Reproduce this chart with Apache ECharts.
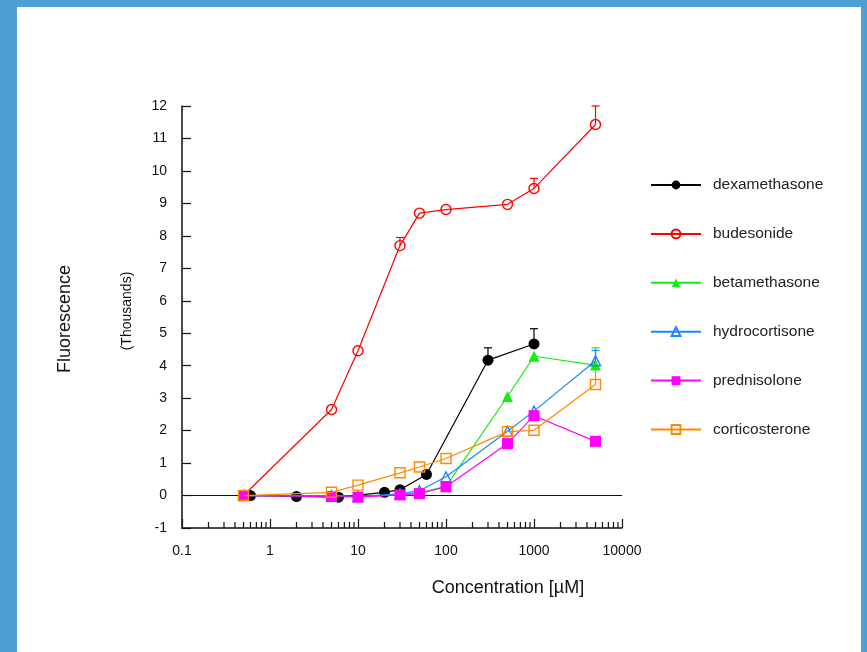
<!DOCTYPE html>
<html lang="en">
<head>
    <meta charset="UTF-8">
    <title>Fluorescence vs concentration</title>
    <script src="https://cdn.jsdelivr.net/npm/echarts@6/dist/echarts.min.js"></script>
    <style>
        html, body {
            margin: 0;
            padding: 0;
            background: #4f9fd6;
        }
        #frame {
            position: absolute;
            left: 17px;
            top: 7px;
            right: 6px;
            bottom: 0;
            background: #ffffff;
        }
        #chart {
            position: absolute;
            left: -17px;
            top: -7px;
            width: 867px;
            height: 652px;
        }
    </style>
</head>
<body>
    <div id="frame"><div id="chart"></div></div>
    <script>
        // concentrations (uM)
        const dexaX = [0.6, 2, 6, 20, 30, 60, 300, 1000];
        const concX = [0.5, 5, 10, 30, 50, 100, 500, 1000, 5000];

        // fluorescence (thousands)
        const dexaY = [0, -0.03, -0.05, 0.1, 0.18, 0.65, 4.17, 4.67];
        const budY = [0, 2.65, 4.46, 7.70, 8.70, 8.81, 8.97, 9.46, 11.43];
        const betaY = [0, 0, -0.03, 0.03, 0.08, 0.28, 3.05, 4.29, 4.02];
        const hydroY = [0, 0, -0.03, 0.05, 0.15, 0.58, 1.98, 2.6, 4.15];
        const predY = [0, -0.03, -0.05, 0.02, 0.06, 0.27, 1.6, 2.46, 1.67];
        const cortY = [0, 0.1, 0.32, 0.70, 0.88, 1.14, 1.97, 2.01, 3.42];

        // upper error bar ends, null = none
        const dexaErr = [null, null, null, null, null, null, 4.55, 5.14];
        const budErr = [null, null, null, 7.95, null, null, null, 9.77, 12.0];
        const betaErr = [null, null, null, null, null, null, null, null, 4.55];
        const hydroErr = [null, null, null, null, null, null, null, null, 4.47];
        const predErr = [null, null, null, null, null, null, null, null, null];
        const cortErr = [null, null, null, null, null, null, null, null, 4.0];

        const names = ['dexamethasone', 'budesonide', 'betamethasone', 'hydrocortisone', 'prednisolone', 'corticosterone'];
        const colors = ['#000000', '#ff0000', '#11ee11', '#1a86ff', '#ff00ff', '#ff8a00'];
        const xTickLabels = ['0.1', '1', '10', '100', '1000', '10000'];
        const minorTicks = [0.2, 0.3, 0.4, 0.5, 0.6, 0.7, 0.8, 0.9,
            2, 3, 4, 5, 6, 7, 8, 9,
            20, 30, 40, 50, 60, 70, 80, 90,
            200, 300, 400, 500, 600, 700, 800, 900,
            2000, 3000, 4000, 5000, 6000, 7000, 8000, 9000];

        const FONT = '"Liberation Sans", Arial, sans-serif';

        const chart = echarts.init(document.getElementById('chart'));

        function pairs(xs, ys) {
            return xs.map((x, i) => [x, ys[i]]);
        }

        function errPairs(xs, ys, tops) {
            const out = [];
            xs.forEach((x, i) => {
                if (tops[i] != null) out.push([x, ys[i], tops[i]]);
            });
            return out;
        }

        function lineSeries(i, xs, ys, symbol, filled) {
            return {
                name: names[i],
                type: 'line',
                data: pairs(xs, ys),
                symbol: symbol,
                symbolSize: filled ? 11 : 10,
                showSymbol: true,
                lineStyle: { color: colors[i], width: 1.2 },
                itemStyle: filled
                    ? { color: colors[i] }
                    : { color: 'rgba(255,255,255,0)', borderColor: colors[i], borderWidth: 1.4 },
                z: 3 + i,
                animation: false
            };
        }

        function errSeries(i, xs, ys, tops) {
            return {
                type: 'custom',
                data: errPairs(xs, ys, tops),
                z: 2,
                silent: true,
                animation: false,
                renderItem: function (params, api) {
                    const p0 = api.coord([api.value(0), api.value(1)]);
                    const p1 = api.coord([api.value(0), api.value(2)]);
                    const st = { stroke: colors[i], lineWidth: 1.2 };
                    return {
                        type: 'group',
                        children: [
                            { type: 'line', shape: { x1: p0[0], y1: p0[1], x2: p1[0], y2: p1[1] }, style: st },
                            { type: 'line', shape: { x1: p1[0] - 4, y1: p1[1], x2: p1[0] + 4, y2: p1[1] }, style: st }
                        ]
                    };
                }
            };
        }

        const option = {
            backgroundColor: 'transparent',
            textStyle: { fontFamily: FONT },
            grid: { left: 182, top: 106, width: 440, height: 422 },
            legend: {
                data: names,
                orient: 'vertical',
                left: 645,
                top: 172,
                itemWidth: 50,
                itemHeight: 11,
                itemGap: 32.9,
                textStyle: { fontSize: 15.5, color: '#222', fontFamily: FONT, padding: [0, 0, 0, 7] }
            },
            xAxis: {
                type: 'log',
                logBase: 10,
                min: 0.1,
                max: 10000,
                axisLine: { onZero: false, lineStyle: { color: '#111', width: 1.5 } },
                axisTick: { inside: true, length: 9, lineStyle: { color: '#111', width: 1.2 } },
                axisLabel: {
                    color: '#111',
                    fontSize: 14,
                    margin: 16,
                    formatter: function (v) {
                        const k = Math.round(Math.log10(v)) + 1;
                        return xTickLabels[k] || '';
                    }
                },
                splitLine: { show: false }
            },
            yAxis: {
                type: 'value',
                min: -1,
                max: 12,
                interval: 1,
                axisLine: { show: true, lineStyle: { color: '#111', width: 1.5 } },
                axisTick: { show: true, inside: true, length: 9, lineStyle: { color: '#111', width: 1.2 } },
                axisLabel: { color: '#111', fontSize: 14, margin: 15 },
                splitLine: { show: false }
            },
            graphic: [
                {
                    type: 'text',
                    x: 65, y: 319,
                    rotation: Math.PI / 2,
                    style: {
                        text: 'Fluorescence', fontSize: 18, fontFamily: FONT, fill: '#111',
                        textAlign: 'center', textVerticalAlign: 'middle'
                    }
                },
                {
                    type: 'text',
                    x: 127, y: 311,
                    rotation: Math.PI / 2,
                    style: {
                        text: '(Thousands)', fontSize: 14, fontFamily: FONT, fill: '#111',
                        textAlign: 'center', textVerticalAlign: 'middle'
                    }
                },
                {
                    type: 'text',
                    x: 508, y: 588,
                    style: {
                        text: 'Concentration [µM]', fontSize: 18, fontFamily: FONT, fill: '#111',
                        textAlign: 'center', textVerticalAlign: 'middle'
                    }
                }
            ],
            series: [
                // minor ticks of the log axis
                {
                    type: 'custom',
                    data: minorTicks.map(v => [v]),
                    silent: true,
                    animation: false,
                    z: 1,
                    renderItem: function (params, api) {
                        const p = api.coord([api.value(0), -1]);
                        return {
                            type: 'line',
                            shape: { x1: p[0], y1: p[1], x2: p[0], y2: p[1] - 6 },
                            style: { stroke: '#111', lineWidth: 1.2 }
                        };
                    }
                },
                Object.assign(lineSeries(0, dexaX, dexaY, 'circle', true), {
                    markLine: {
                        silent: true,
                        symbol: 'none',
                        label: { show: false },
                        lineStyle: { color: '#111', width: 1.2, type: 'solid' },
                        data: [{ yAxis: 0 }],
                        animation: false
                    }
                }),
                lineSeries(1, concX, budY, 'circle', false),
                lineSeries(2, concX, betaY, 'triangle', true),
                lineSeries(3, concX, hydroY, 'triangle', false),
                lineSeries(4, concX, predY, 'rect', true),
                lineSeries(5, concX, cortY, 'rect', false),
                errSeries(0, dexaX, dexaY, dexaErr),
                errSeries(1, concX, budY, budErr),
                errSeries(2, concX, betaY, betaErr),
                errSeries(3, concX, hydroY, hydroErr),
                errSeries(4, concX, predY, predErr),
                errSeries(5, concX, cortY, cortErr)
            ]
        };

        chart.setOption(option);
        window.addEventListener('resize', () => chart.resize());
    </script>
</body>
</html>
